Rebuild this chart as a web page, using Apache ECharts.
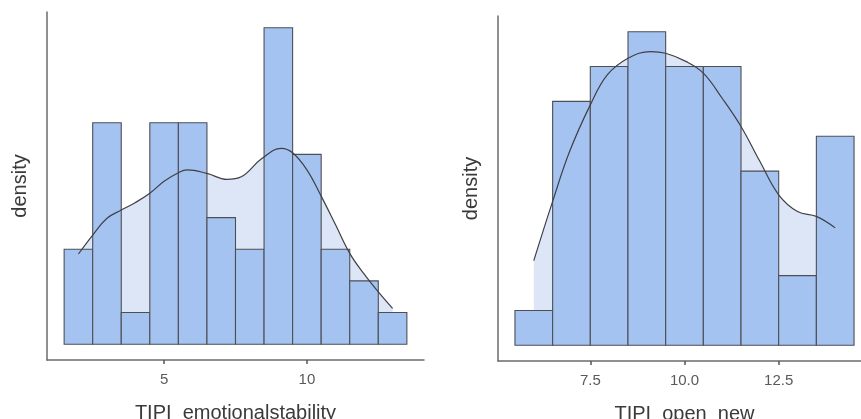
<!DOCTYPE html>
<html>
<head>
<meta charset="utf-8">
<script src="https://cdn.jsdelivr.net/npm/echarts@6/dist/echarts.min.js"></script>
<style>
  html, body { margin: 0; padding: 0; background: #fff; }
  #chart { width: 861px; height: 419px; }
</style>
</head>
<body>
<div id="chart"></div>
<script>
// TIPI_emotionalstability: bin centres (width 1) and counts per bin
const emoBins = [2, 3, 4, 5, 6, 7, 8, 9, 10, 11, 12, 13];
const emoCounts = [3, 7, 1, 7, 7, 4, 3, 10, 6, 3, 2, 1];
// kernel density estimate, in count units
const emoKdeX = [2.0, 2.5, 3.0, 3.5, 4.0, 4.5, 5.0, 5.5, 5.8, 6.5, 7.2, 7.7, 8.4, 9.1, 9.5, 10.0, 10.5, 11.0, 11.5, 12.0, 12.5, 13.0];
const emoKdeY = [2.85, 3.45, 3.98, 4.24, 4.48, 4.77, 5.15, 5.42, 5.51, 5.40, 5.21, 5.29, 5.85, 6.19, 6.05, 5.51, 4.68, 3.78, 2.87, 2.22, 1.65, 1.13];
const emoTicks = [5, 10];

// TIPI_open_new
const openBins = [6, 7, 8, 9, 10, 11, 12, 13, 14];
const openCounts = [1, 7, 8, 9, 8, 8, 5, 2, 6];
const openKdeX = [6.0, 6.5, 6.95, 7.5, 7.95, 8.5, 9.1, 9.5, 10.05, 10.5, 11.0, 11.5, 12.0, 12.5, 13.0, 13.5, 14.0];
const openKdeY = [2.43, 4.13, 5.56, 6.90, 7.76, 8.24, 8.43, 8.38, 8.14, 7.81, 7.09, 6.28, 5.28, 4.32, 3.84, 3.70, 3.37];
const openTicks = [7.5, 10.0, 12.5];

const binWidth = 1;

const BAR_FILL = '#a5c3f0';
const BAR_EDGE = '#4d4f55';
const KDE_FILL = '#dce6f7';
const KDE_LINE = '#3f4045';
const AXIS_COL = '#6b6b6b';
const FONT = 'Liberation Sans, Arial, sans-serif';

function panel(bins, counts, kdeX, kdeY, ticks, decimals) {
  const n = counts.reduce((a, b) => a + b, 0);
  const scale = 1 / (n * binWidth);
  const lo = bins[0] - binWidth / 2;
  const hi = bins[bins.length - 1] + binWidth / 2;
  const xPad = 0.05 * (hi - lo);
  const maxC = Math.max.apply(null, counts);
  const yPad = 0.05 * maxC;
  return {
    bars: bins.map((b, i) => [b, counts[i] * scale]),
    kde: kdeX.map((x, i) => [x, kdeY[i] * scale]),
    xMin: lo - xPad, xMax: hi + xPad,
    yMin: -yPad * scale, yMax: (maxC + yPad) * scale,
    ticks, decimals
  };
}

const left = panel(emoBins, emoCounts, emoKdeX, emoKdeY, emoTicks, 0);
const right = panel(openBins, openCounts, openKdeX, openKdeY, openTicks, 1);

function xAxisFor(p, idx, name) {
  return {
    type: 'value', gridIndex: idx, min: p.xMin, max: p.xMax,
    name: name, nameLocation: 'middle', nameGap: 43,
    nameTextStyle: { fontFamily: FONT, fontSize: 20, color: '#3a3a3a' },
    axisLine: { show: true, onZero: false, lineStyle: { color: AXIS_COL, width: 1.5 } },
    axisTick: { show: true, length: 4, customValues: p.ticks, lineStyle: { color: '#555', width: 1.5 } },
    axisLabel: {
      show: true, customValues: p.ticks, margin: 12,
      fontFamily: FONT, fontSize: 15, color: '#5a5a5a',
      formatter: v => Number(v).toFixed(p.decimals)
    },
    splitLine: { show: false }
  };
}

function yAxisFor(p, idx) {
  return {
    type: 'value', gridIndex: idx, min: p.yMin, max: p.yMax,
    name: 'density', nameLocation: 'middle', nameGap: 17,
    nameTextStyle: { fontFamily: FONT, fontSize: 20, color: '#3a3a3a' },
    axisLine: { show: true, onZero: false, lineStyle: { color: AXIS_COL, width: 1.5 } },
    axisTick: { show: false },
    axisLabel: { show: false },
    splitLine: { show: false }
  };
}

function histRender(params, api) {
  const x = api.value(0), y = api.value(1);
  const p0 = api.coord([x - binWidth / 2, y]);
  const p1 = api.coord([x + binWidth / 2, 0]);
  return {
    type: 'rect',
    shape: { x: p0[0], y: p0[1], width: p1[0] - p0[0], height: p1[1] - p0[1] },
    style: { fill: BAR_FILL, stroke: BAR_EDGE, lineWidth: 1.1 }
  };
}

function seriesFor(p, idx) {
  return [
    {
      type: 'line', xAxisIndex: idx, yAxisIndex: idx, data: p.kde,
      smooth: 0.4, symbol: 'none', z: 1, silent: true,
      lineStyle: { width: 0 },
      areaStyle: { color: KDE_FILL, opacity: 1, origin: 'auto' }
    },
    {
      type: 'custom', xAxisIndex: idx, yAxisIndex: idx, data: p.bars,
      renderItem: histRender, z: 2, silent: true
    },
    {
      type: 'line', xAxisIndex: idx, yAxisIndex: idx, data: p.kde,
      smooth: 0.4, symbol: 'none', z: 3, silent: true,
      lineStyle: { color: KDE_LINE, width: 1.2 }
    }
  ];
}

const chart = echarts.init(document.getElementById('chart'), null, { renderer: 'canvas' });
chart.setOption({
  animation: false,
  backgroundColor: '#ffffff',
  grid: [
    { left: 47, top: 12, width: 377, height: 348, containLabel: false, outerBoundsMode: 'none' },
    { left: 498, top: 16, width: 373, height: 345, containLabel: false, outerBoundsMode: 'none' }
  ],
  xAxis: [
    xAxisFor(left, 0, 'TIPI_emotionalstability'),
    xAxisFor(right, 1, 'TIPI_open_new')
  ],
  yAxis: [yAxisFor(left, 0), yAxisFor(right, 1)],
  series: seriesFor(left, 0).concat(seriesFor(right, 1))
});
</script>
</body>
</html>
